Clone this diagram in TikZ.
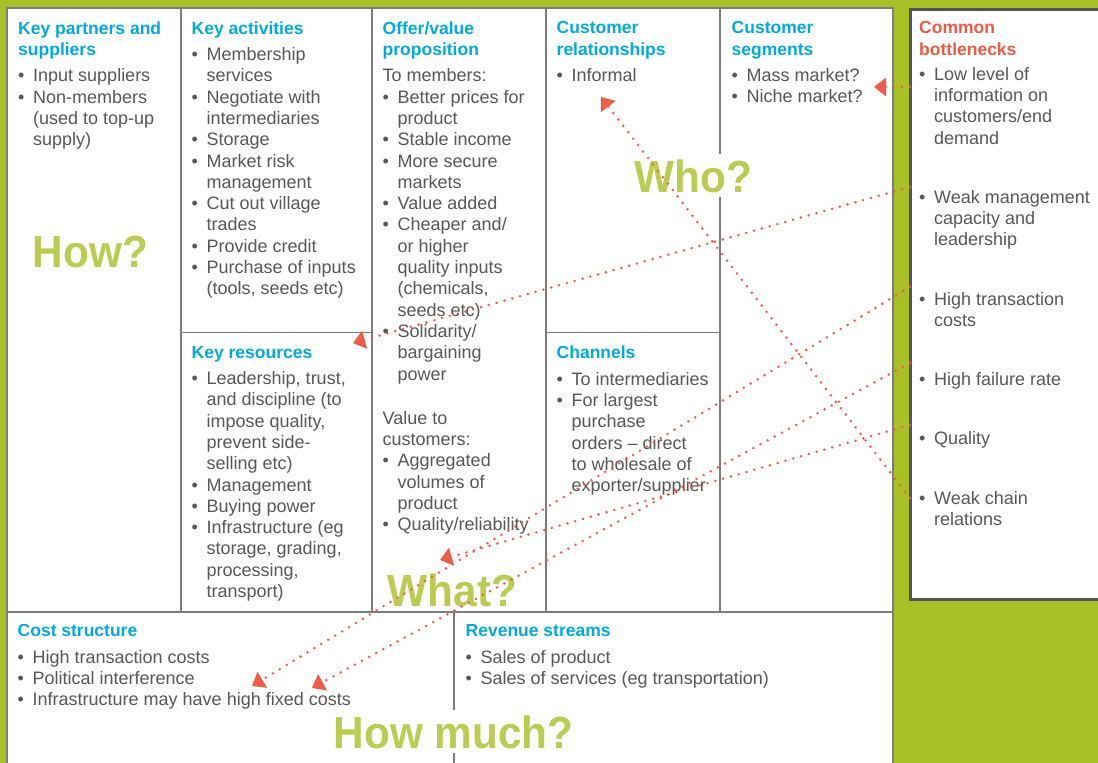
\documentclass[tikz,border=0pt]{standalone}
\usepackage{fontspec}
\setmainfont{Liberation Sans}
\usetikzlibrary{arrows.meta}
\definecolor{bggreen}{RGB}{168,191,38}
\definecolor{wordgreen}{RGB}{188,204,80}
\definecolor{headcyan}{RGB}{0,171,221}
\definecolor{headred}{RGB}{238,90,68}
\definecolor{txtgray}{RGB}{88,88,88}
\definecolor{linegray}{RGB}{125,125,125}
\definecolor{boxgray}{RGB}{85,85,85}
\definecolor{dotred}{RGB}{240,92,72}
\newcommand{\hd}[1]{\textcolor{headcyan}{\fontsize{17.5}{21.3}\selectfont\bfseries #1}}
\newcommand{\hdr}[1]{\textcolor{headred}{\fontsize{17.5}{21.3}\selectfont\bfseries #1}}
\newcommand{\bl}{\makebox[15pt][l]{\textbullet}}
\newcommand{\ct}{\hspace*{15pt}}

\begin{document}
\begin{tikzpicture}[x=1pt,y=-1pt,font=\fontsize{18}{21.3}\selectfont,
sect/.style={anchor=north west,inner sep=0pt,align=left,text=txtgray},
word/.style={anchor=base,inner sep=5pt,text=wordgreen,font=\fontsize{45}{50}\selectfont\bfseries},
grid line/.style={draw=linegray,line width=1.3pt},
dot arrow/.style={draw=dotred,line width=2.8pt,line cap=round,dash pattern=on 0pt off 8.1pt,
  -{Triangle[length=12pt,width=18pt]}}]
\useasboundingbox (0,0) rectangle (1098,763);
\clip (0,0) rectangle (1098,763);
\fill[bggreen] (0,0) rectangle (1098,763);
\draw[grid line,fill=white] (7,8) rectangle (893,800);
\draw[grid line] (181,8) -- (181,612) (372,8) -- (372,612) (546,8) -- (546,612) (720,8) -- (720,612);
\draw[grid line] (181,332.5) -- (372,332.5) (546,332.5) -- (720,332.5) (7,612) -- (893,612) (454,612) -- (454,800);
\fill[white] (910.5,9) rectangle (1098,599);
\draw[draw=boxgray,line width=3pt] (1098,9) -- (910.5,9) -- (910.5,599) -- (1098,599);

\node[sect] (partners) at (18,21.4) {\hd{Key partners and}\\ \hd{suppliers}\\[5pt]
  \bl Input suppliers\\ \bl Non-members\\ \ct (used to top-up\\ \ct supply)};
\node[sect] (activities) at (191.5,21.4) {\hd{Key activities}\\[5pt]
  \bl Membership\\ \ct services\\ \bl Negotiate with\\ \ct intermediaries\\ \bl Storage\\
  \bl Market risk\\ \ct management\\ \bl Cut out village\\ \ct trades\\ \bl Provide credit\\
  \bl Purchase of inputs\\ \ct (tools, seeds etc)};
\node[sect] (offer) at (382.5,21.4) {\hd{Offer/value}\\ \hd{proposition}\\[5pt]
  To members:\\ \bl Better prices for\\ \ct product\\ \bl Stable income\\ \bl More secure\\ \ct markets\\
  \bl Value added\\ \bl Cheaper and/\\ \ct or higher\\ \ct quality inputs\\ \ct (chemicals,\\ \ct seeds etc)\\
  \bl Solidarity/\\ \ct bargaining\\ \ct power\\[23pt]
  Value to\\ customers:\\ \bl Aggregated\\ \ct volumes of\\ \ct product\\ \bl Quality/reliability};
\node[sect] (relations) at (556.5,21.4) {\hd{Customer}\\ \hd{relationships}\\[5pt] \bl Informal};
\node[sect] (segments) at (731.5,21.4) {\hd{Customer}\\ \hd{segments}\\[5pt] \bl Mass market?\\ \bl Niche market?};
\node[sect] (resources) at (191.5,346) {\hd{Key resources}\\[5pt]
  \bl Leadership, trust,\\ \ct and discipline (to\\ \ct impose quality,\\ \ct prevent side-\\ \ct selling etc)\\
  \bl Management\\ \bl Buying power\\ \bl Infrastructure (eg\\ \ct storage, grading,\\ \ct processing,\\ \ct transport)};
\node[sect] (channels) at (556.5,346) {\hd{Channels}\\[5pt]
  \bl To intermediaries\\ \bl For largest\\ \ct purchase\\ \ct orders – direct\\ \ct to wholesale of\\ \ct exporter/supplier};
\node[sect] (cost) at (17.5,624.5) {\hd{Cost structure}\\[5pt]
  \bl High transaction costs\\ \bl Political interference\\ \bl Infrastructure may have high fixed costs};
\node[sect] (revenue) at (465.5,624.5) {\hd{Revenue streams}\\[5pt]
  \bl Sales of product\\ \bl Sales of services (eg transportation)};

\node[sect] (bottlenecks) at (919,21.4) {\hdr{Common}\\ \hdr{bottlenecks}};
\node[sect] (lowinfo) at (919,67.1) {\bl Low level of\\ \ct information on\\ \ct customers/end\\ \ct demand};
\node[sect] (weakmgmt) at (919,190.1) {\bl Weak management\\ \ct capacity and\\ \ct leadership};
\node[sect] (hightrans) at (919,292.1) {\bl High transaction\\ \ct costs};
\node[sect] (failure) at (919,372.1) {\bl High failure rate};
\node[sect] (quality) at (919,431) {\bl Quality};
\node[sect] (weakchain) at (919,491.1) {\bl Weak chain\\ \ct relations};

\node[word] (how) at (90.5,267) {\scalebox{0.94}[1]{How?}};
\node[word,fill=white] (who) at (693.5,192) {\scalebox{0.94}[1]{Who?}};
\node[word] (what) at (452.5,606) {\scalebox{0.94}[1]{What?}};
\node[word,fill=white] (howmuch) at (453.5,748) {\scalebox{0.94}[1]{How much?}};

\coordinate (lowinfo out) at (910,87);
\coordinate (weakmgmt out) at (910,187);
\coordinate (hightrans out) at (910,287);
\coordinate (failure out) at (910,363);
\coordinate (quality out) at (910,425);
\coordinate (weakchain out) at (910,498);
\coordinate (segments in) at (874,87);
\coordinate (resources in) at (353,343);
\coordinate (cost in) at (252,686);
\coordinate (fixed in) at (312,688);
\coordinate (offer in) at (440,560);
\coordinate (relations in) at (601,97);
\draw[dot arrow] (lowinfo out) -- (segments in);
\draw[dot arrow] (weakmgmt out) -- (resources in);
\draw[dot arrow] (hightrans out) -- (cost in);
\draw[dot arrow] (failure out) -- (fixed in);
\draw[dot arrow] (quality out) -- (offer in);
\draw[dot arrow] (weakchain out) -- (relations in);
\end{tikzpicture}
\end{document}
